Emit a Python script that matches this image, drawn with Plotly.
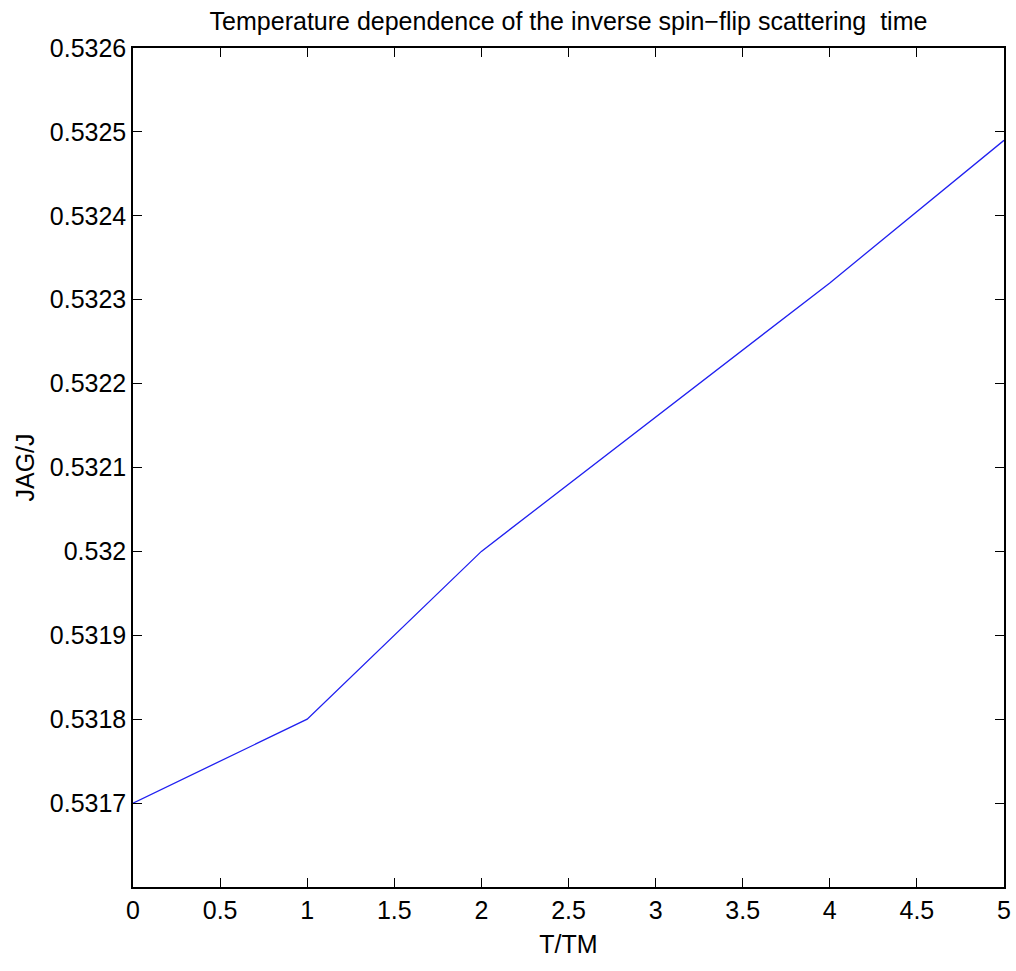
import plotly.graph_objects as go

x_vals = [0, 1, 2, 3, 4, 5]
y_vals = [0.5317, 0.5318, 0.5320, 0.53216, 0.53232, 0.53249]

x_ticks = [0, 0.5, 1, 1.5, 2, 2.5, 3, 3.5, 4, 4.5, 5]
x_ticktext = ["0", "0.5", "1", "1.5", "2", "2.5", "3", "3.5", "4", "4.5", "5"]
y_ticks = [0.5317, 0.5318, 0.5319, 0.5320, 0.5321, 0.5322, 0.5323, 0.5324, 0.5325, 0.5326]
y_ticktext = ["0.5317", "0.5318", "0.5319", "0.532", "0.5321", "0.5322", "0.5323", "0.5324", "0.5325", "0.5326"]

FONT = "Liberation Sans, Arial, sans-serif"

fig = go.Figure()
fig.add_trace(go.Scatter(x=x_vals, y=y_vals, mode="lines",
                         line=dict(color="#2020f0", width=1.3), showlegend=False))

axis_common = dict(showline=True, linecolor="black", linewidth=1.5, mirror="ticks",
                   ticks="inside", ticklen=9, tickcolor="black", tickwidth=1,
                   showgrid=False, zeroline=False,
                   tickfont=dict(family=FONT, size=25, color="black"))

fig.update_layout(
    width=1016, height=971,
    margin=dict(l=133, r=5, t=48, b=84),
    paper_bgcolor="white", plot_bgcolor="white",
    title=dict(text="Temperature dependence of the inverse spin\u2212flip scattering  time",
               x=0.5, xanchor="center", xref="paper", y=0.978, yanchor="middle",
               font=dict(family=FONT, size=25, color="black")),
    xaxis=dict(range=[0, 5], tickvals=x_ticks, ticktext=x_ticktext,
               title=dict(text="T/TM", font=dict(family=FONT, size=25, color="black"), standoff=13),
               **axis_common),
    yaxis=dict(range=[0.5316, 0.5326], tickvals=y_ticks, ticktext=y_ticktext,
               title=dict(text="JAG/J", font=dict(family=FONT, size=25, color="black"), standoff=8),
               **axis_common),
)

fig.write_html("out.html")
